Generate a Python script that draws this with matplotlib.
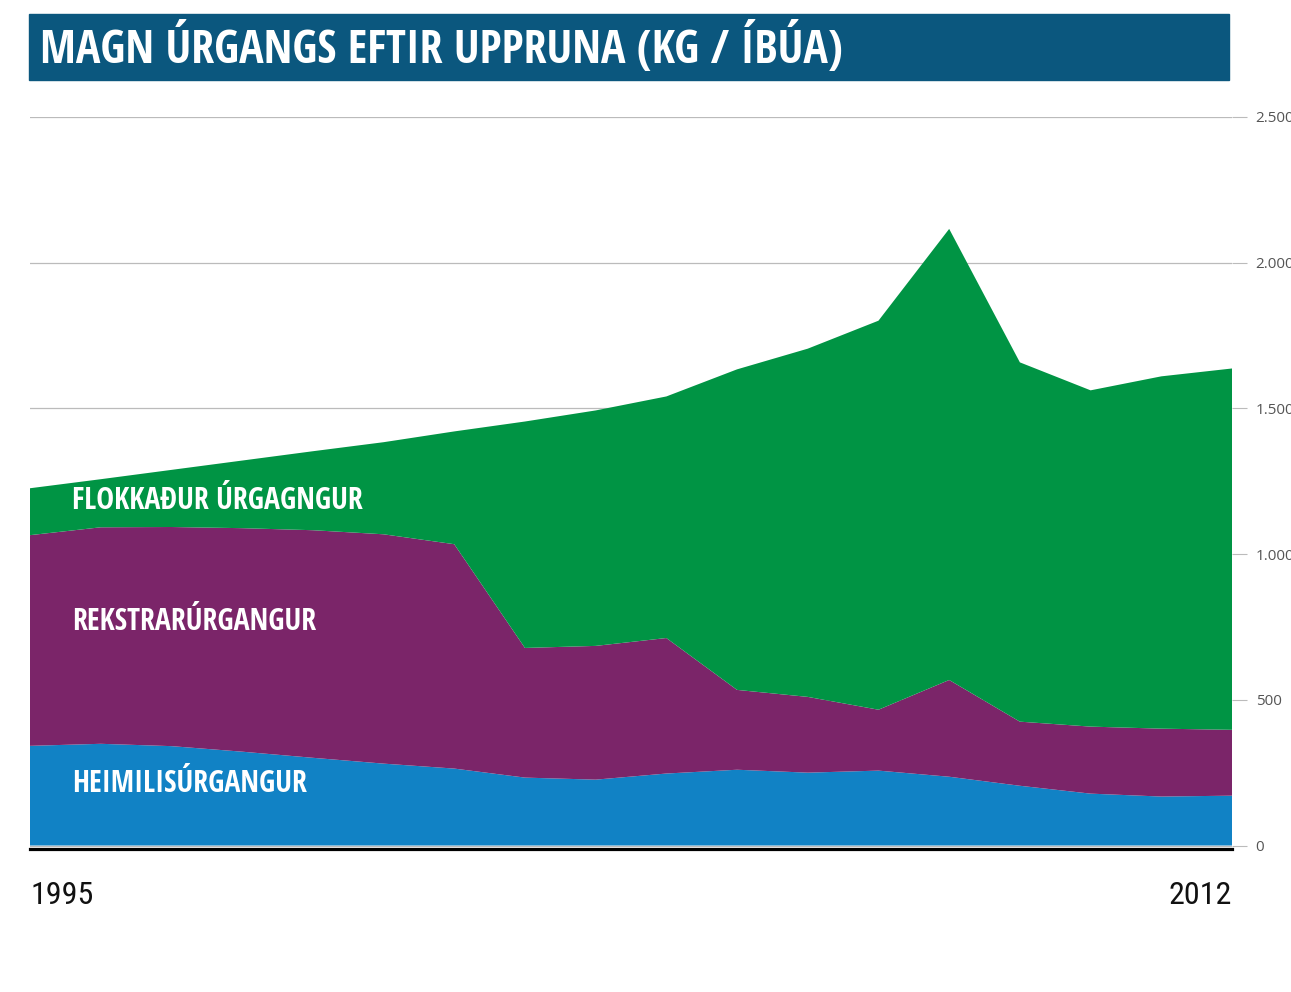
import matplotlib.pyplot as plt
from matplotlib.patches import Rectangle
from matplotlib.ticker import FuncFormatter
import matplotlib.transforms as mtransforms

# Data (kg / íbúa)
years = list(range(1995, 2013))
heimilis = [342, 349, 341, 322, 301, 281, 264, 233, 226, 247, 260, 250, 257, 236, 205, 178, 168, 171]
heimilis_rekstrar = [1065, 1092, 1093, 1089, 1082, 1068, 1034, 678, 685, 712, 534, 510, 466, 568, 425, 408, 401, 397]
total = [1226, 1257, 1289, 1321, 1353, 1384, 1421, 1455, 1493, 1541, 1634, 1705, 1801, 2116, 1658, 1562, 1610, 1637]

rekstrar = [a - b for a, b in zip(heimilis_rekstrar, heimilis)]
flokkad = [a - b for a, b in zip(total, heimilis_rekstrar)]

series_labels = ['HEIMILISÚRGANGUR', 'REKSTRARÚRGANGUR', 'FLOKKAÐUR ÚRGAGNGUR']
colors = ['#1182c5', '#7b2569', '#009444']
title = 'MAGN ÚRGANGS EFTIR UPPRUNA (KG / ÍBÚA)'

cond = ['Open Sans Condensed', 'DejaVu Sans']
cond_light = ['Roboto Condensed', 'DejaVu Sans']
light = ['Open Sans', 'DejaVu Sans']

fig = plt.figure(figsize=(12.91, 9.92), dpi=100)
ax = fig.add_axes([30 / 1291, 1 - 849 / 992, (1232 - 30) / 1291, 732 / 992])

ax.stackplot(years, heimilis, rekstrar, flokkad, colors=colors, linewidth=0, zorder=2)

ax.set_xlim(1995, 2012)
ax.set_ylim(-12, 2500)
ax.set_xticks([])
ax.yaxis.tick_right()
ax.set_yticks([0, 500, 1000, 1500, 2000, 2500])
ax.yaxis.set_major_formatter(FuncFormatter(lambda v, p: f'{int(v):,}'.replace(',', '.')))
ax.tick_params(axis='y', length=11, width=0.8, color='#bbbbbb', pad=6,
               labelsize=11, labelcolor='#555555')
for lab in ax.get_yticklabels():
    lab.set_family(light)
ax.grid(axis='y', color='#bbbbbb', linewidth=0.9, zorder=0)
ax.set_axisbelow(True)
for side in ['top', 'right', 'left']:
    ax.spines[side].set_visible(False)
ax.spines['bottom'].set_linewidth(2.3)
ax.spines['bottom'].set_color('black')

# series labels
label_y = [211, 766, 1183]
for name, yv in zip(series_labels, label_y):
    ax.text(1995.6, yv, name, color='white', fontsize=21.5, fontweight='bold',
            family=cond, va='center', zorder=3)

# year labels below the axis
trans = mtransforms.blended_transform_factory(ax.transData, ax.transAxes)
ax.text(1995, -0.063, str(years[0]), transform=trans, ha='left', va='center',
        fontsize=23, family=cond_light, color='#111111')
ax.text(2012, -0.063, str(years[-1]), transform=trans, ha='right', va='center',
        fontsize=23, family=cond_light, color='#111111')

# title bar
fig.patches.append(Rectangle((29 / 1291, 1 - 80 / 992), 1200 / 1291, 66 / 992,
                             transform=fig.transFigure, color='#0b577e', zorder=0))
fig.text(40 / 1291, 1 - 48 / 992, title, color='white', fontsize=33, fontweight='bold',
         family=cond, va='center', ha='left')

fig.savefig('out.png', dpi=100)
